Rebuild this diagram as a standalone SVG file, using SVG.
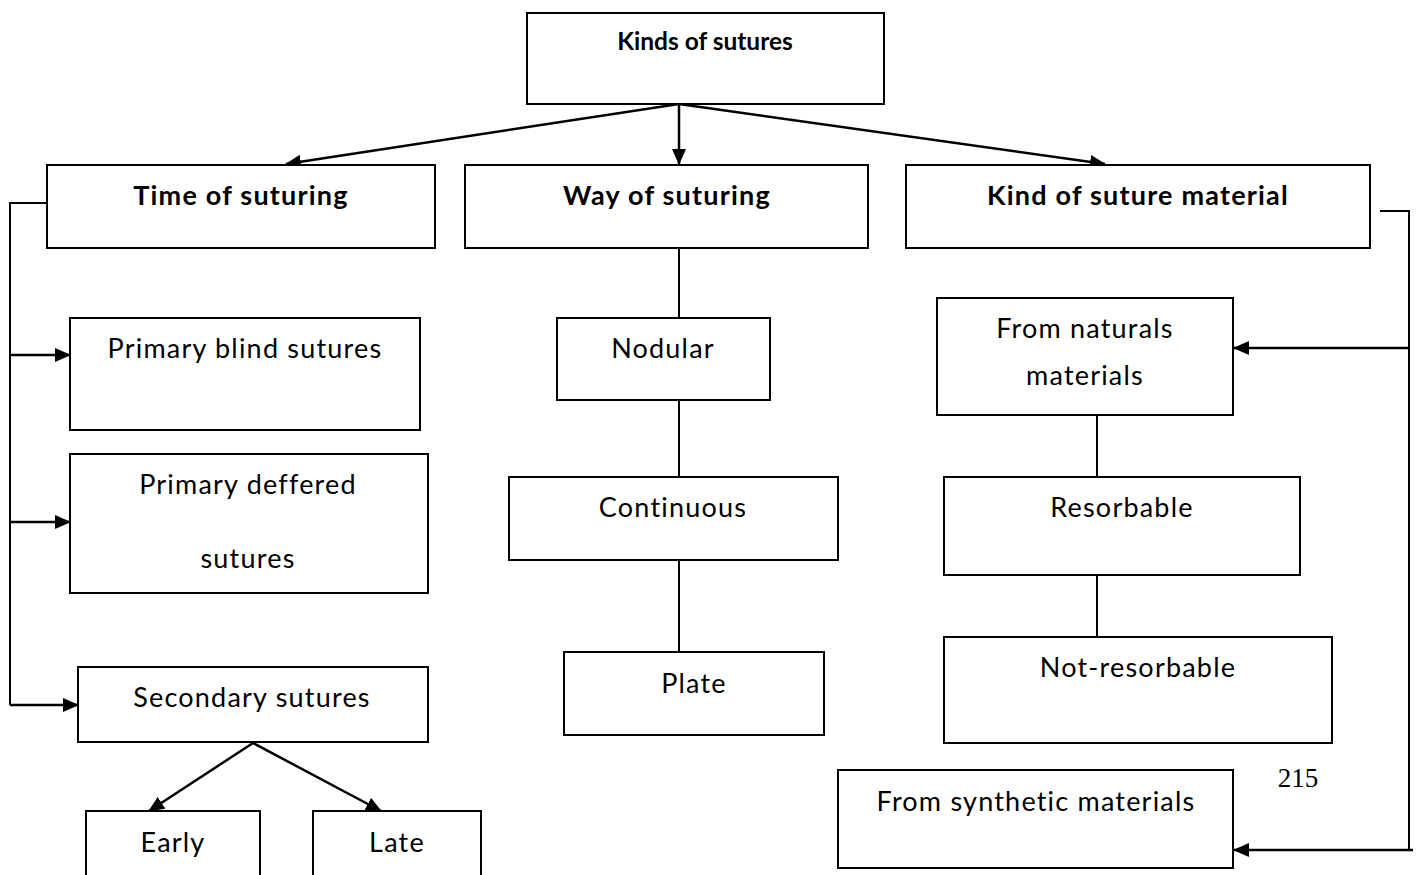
<svg xmlns="http://www.w3.org/2000/svg" width="1417" height="875" viewBox="0 0 1417 875">
<defs>
<marker id="ahl" markerWidth="16" markerHeight="14" refX="15" refY="7" orient="auto" markerUnits="userSpaceOnUse">
<path d="M0,0 L16,7 L0,14 z" fill="#000"/>
</marker>
</defs>
<style>
.box{fill:#fff;stroke:#000;stroke-width:2}
.t{font-family:Lato,"Liberation Sans",sans-serif;font-size:27px;letter-spacing:1.2px;fill:#000;text-anchor:middle}
.b{font-weight:bold}
.c{fill:none;stroke:#000;stroke-width:2}
.c3{fill:none;stroke:#000;stroke-width:2.5}
</style>
<rect width="1417" height="875" fill="#fff"/>
<g id="connectors">
<line class="c3" x1="679" y1="104" x2="679" y2="164" marker-end="url(#ahl)"/>
<line class="c3" x1="679" y1="104" x2="286" y2="164" marker-end="url(#ahl)"/>
<line class="c3" x1="679" y1="104" x2="1105" y2="164" marker-end="url(#ahl)"/>
<polyline class="c" points="47,203 10,203 10,705"/>
<line class="c3" x1="10" y1="355" x2="70" y2="355" marker-end="url(#ahl)"/>
<line class="c3" x1="10" y1="522" x2="70" y2="522" marker-end="url(#ahl)"/>
<line class="c3" x1="10" y1="705" x2="78" y2="705" marker-end="url(#ahl)"/>
<polyline class="c" points="1380,211 1409,211 1409,850"/>
<line class="c3" x1="1409" y1="348" x2="1234" y2="348" marker-end="url(#ahl)"/>
<line class="c3" x1="1413" y1="850" x2="1234" y2="850" marker-end="url(#ahl)"/>
<line class="c" x1="679" y1="248" x2="679" y2="318"/>
<line class="c" x1="679" y1="400" x2="679" y2="477"/>
<line class="c" x1="679" y1="560" x2="679" y2="652"/>
<line class="c" x1="1097" y1="415" x2="1097" y2="477"/>
<line class="c" x1="1097" y1="575" x2="1097" y2="637"/>
<line class="c3" x1="253" y1="743" x2="149" y2="811" marker-end="url(#ahl)"/>
<line class="c3" x1="253" y1="743" x2="381" y2="811" marker-end="url(#ahl)"/>
</g>
<g id="n-kinds"><rect class="box" x="527" y="13" width="357" height="91"/><text class="t b" x="705" y="50" style="font-size:24.5px;letter-spacing:0">Kinds of sutures</text></g>
<g id="n-time"><rect class="box" x="47" y="165" width="388" height="83"/><text class="t b" x="241" y="205">Time of suturing</text></g>
<g id="n-way"><rect class="box" x="465" y="165" width="403" height="83"/><text class="t b" x="667" y="205">Way of suturing</text></g>
<g id="n-material"><rect class="box" x="906" y="165" width="464" height="83"/><text class="t b" x="1138" y="205">Kind of suture material</text></g>
<g id="n-blind"><rect class="box" x="70" y="318" width="350" height="112"/><text class="t" x="245" y="358">Primary blind sutures</text></g>
<g id="n-deffered"><rect class="box" x="70" y="454" width="358" height="139"/><text class="t" x="248" y="494">Primary deffered</text><text class="t" x="248" y="568">sutures</text></g>
<g id="n-secondary"><rect class="box" x="78" y="667" width="350" height="75"/><text class="t" x="252" y="707">Secondary sutures</text></g>
<g id="n-early"><rect class="box" x="86" y="811" width="174" height="70"/><text class="t" x="173" y="852">Early</text></g>
<g id="n-late"><rect class="box" x="313" y="811" width="168" height="70"/><text class="t" x="397" y="852">Late</text></g>
<g id="n-nodular"><rect class="box" x="557" y="318" width="213" height="82"/><text class="t" x="663" y="358">Nodular</text></g>
<g id="n-continuous"><rect class="box" x="509" y="477" width="329" height="83"/><text class="t" x="673" y="517">Continuous</text></g>
<g id="n-plate"><rect class="box" x="564" y="652" width="260" height="83"/><text class="t" x="694" y="693">Plate</text></g>
<g id="n-naturals"><rect class="box" x="937" y="298" width="296" height="117"/><text class="t" x="1085" y="338">From naturals</text><text class="t" x="1085" y="385">materials</text></g>
<g id="n-resorbable"><rect class="box" x="944" y="477" width="356" height="98"/><text class="t" x="1122" y="517">Resorbable</text></g>
<g id="n-notres"><rect class="box" x="944" y="637" width="388" height="106"/><text class="t" x="1138" y="677">Not-resorbable</text></g>
<g id="n-synthetic"><rect class="box" x="838" y="770" width="395" height="98"/><text class="t" x="1036" y="811">From synthetic materials</text></g>
<text x="1298" y="787" font-family="Liberation Serif,serif" font-size="27" text-anchor="middle" fill="#000">215</text>
</svg>
